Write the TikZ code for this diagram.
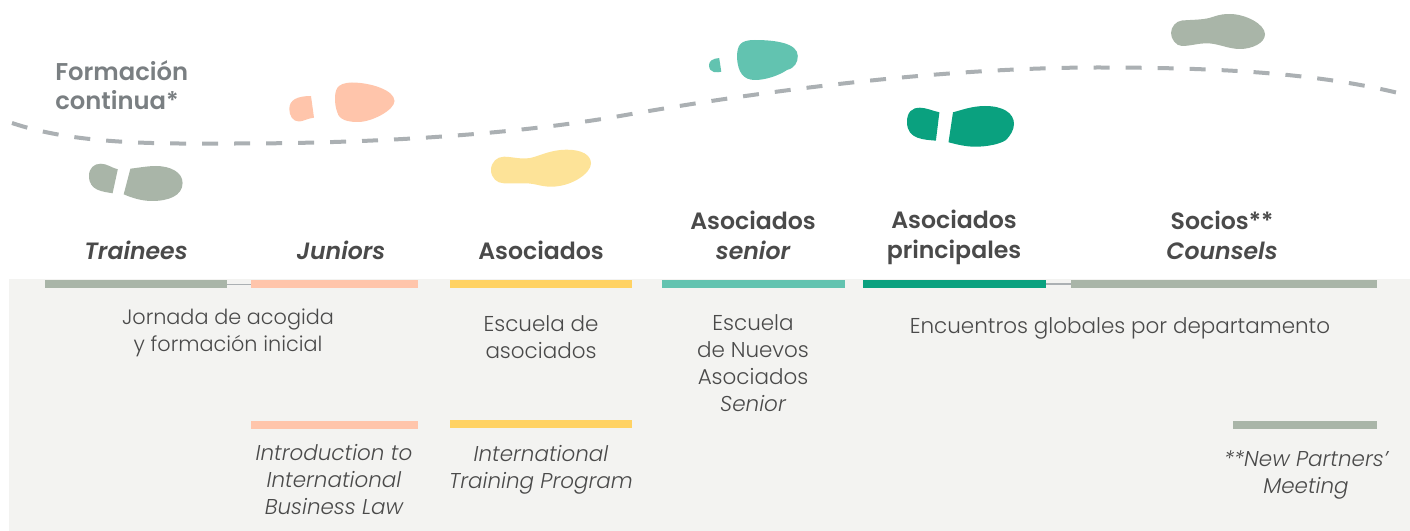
\documentclass[tikz,border=0pt]{standalone}
\usepackage{fontspec}
\setmainfont{Poppins}
\newfontfamily\lightfont{Poppins Light}
\newfontfamily\mediumfont{Poppins SemiBold}
\usepackage{xcolor}
\definecolor{sage}{HTML}{A9B5A8}
\definecolor{peach}{HTML}{FFC5AB}
\definecolor{sand}{HTML}{FFD263}
\definecolor{paleSand}{HTML}{FDE398}
\definecolor{mint}{HTML}{62C3B0}
\definecolor{jade}{HTML}{0AA17F}
\definecolor{panel}{HTML}{F3F3F1}
\definecolor{dashGrey}{HTML}{ABB0B3}
\definecolor{inkGrey}{HTML}{4A4A4A}
\definecolor{tagGrey}{HTML}{7A7F82}
\tikzset{
	barbox/.style={inner sep=0, outer sep=0, minimum height=6pt},
	stage/.style={align=center, text=inkGrey, font=\mediumfont\fontsize{17.7}{22.5}\selectfont},
	course/.style={align=center, text=inkGrey, font=\lightfont\fontsize{16.1}{20.25}\selectfont},
	courseit/.style={course, font=\lightfont\itshape\fontsize{16.1}{20.25}\selectfont},
}
\begin{document}
\begin{tikzpicture}[x=0.75pt,y=-0.75pt]
\useasboundingbox (0,0) rectangle (1410,531);
\fill[panel] (9,279) rectangle (1410,531);
% continuous training path
\draw[dashGrey, line width=3pt, dash pattern=on 12pt off 12pt] (12,123) .. controls (80,146) and (170,143.5) .. (237,143.5) .. controls (370,143.5) and (510,135) .. (620,116) .. controls (790,86) and (960,67.5) .. (1098,67.5) .. controls (1210,67.5) and (1320,72) .. (1410,96);
\node[anchor=north west, align=left, inner sep=0, text=tagGrey, font=\mediumfont\fontsize{18.2}{21.75}\selectfont] (continua) at (55,60) {Formación\\continua*};
% footprints
\fill[sage] (117.8,169.3) -- (112.6,193.3) .. controls (103,191.5) and (89,191) .. (89,176) .. controls (89,168) and (94,163.7) .. (100.8,163.7) .. controls (107,163.7) and (112,168) .. cycle;
\fill[sage] (130.4,168.7) .. controls (140,167.5) and (148,166) .. (156,166) .. controls (170,166) and (182.6,172) .. (182.6,183) .. controls (182.6,196) and (168,201) .. (152,201) .. controls (142,201) and (132,198) .. (123.7,194.3) -- cycle;
\fill[peach] (311,96) -- (314,117.7) .. controls (307,118.5) and (303,121.5) .. (299,121.5) .. controls (293,121.5) and (289.3,116) .. (289.3,109) .. controls (289.3,100) and (297,96) .. cycle;
\fill[peach] (335,100) .. controls (335,90) and (336,83) .. (352,82.5) .. controls (370,82.5) and (394.5,90) .. (394.5,101) .. controls (394.5,110) and (372,122) .. (358,122) .. controls (342,122) and (338,117) .. (336.5,110) .. controls (335.5,106) and (335,103) .. cycle;
\fill[paleSand] (491,170) .. controls (491,162) and (497,156.7) .. (504,156.7) .. controls (512,156.7) and (520,159.5) .. (530,158) .. controls (540,156) and (550,149.7) .. (567,149.7) .. controls (582,149.7) and (591,155) .. (591,163.5) .. controls (591,173) and (572,186.7) .. (551,186.7) .. controls (541,186.7) and (535,183.3) .. (525,183.3) -- (504,183.3) .. controls (497,183.3) and (491,178) .. cycle;
\fill[mint] (719.2,58) -- (721.3,71.7) .. controls (718,72.5) and (709,74) .. (709,65) .. controls (709,61) and (713,58.5) .. cycle;
\fill[mint] (737,58) .. controls (737,45) and (740,40) .. (755,40) .. controls (775,40) and (797.8,43) .. (797.8,56) .. controls (797.8,62) and (795,68) .. (787,70) .. controls (778,76) and (765,80) .. (755,80) .. controls (743,80) and (738,72) .. cycle;
\fill[jade] (939.4,112.3) -- (935.9,140.7) .. controls (925,139.5) and (907,140) .. (907,122) .. controls (907,112) and (912,107.7) .. (920,107.7) .. controls (926,107.7) and (933,111) .. cycle;
\fill[jade] (953,112.3) .. controls (962,110) and (972,106) .. (985,106) .. controls (1003,106) and (1014,113) .. (1014,124) .. controls (1014,130) and (1010,136) .. (1006,140) .. controls (1000,144) and (988,146.7) .. (975,146.7) .. controls (966,146.7) and (957,144.5) .. (948.5,142.3) -- cycle;
\fill[sage] (1171,33) .. controls (1171,27) and (1176,21) .. (1182,20.5) .. controls (1195,19.5) and (1205,20) .. (1214,16.5) .. controls (1220,14.5) and (1224,14) .. (1230,14) .. controls (1245,14) and (1265,24) .. (1265,34.3) .. controls (1265,43) and (1252,49) .. (1240,49) .. controls (1228,49) and (1218,43.3) .. (1207,43.3) .. controls (1198,43.3) and (1190,46) .. (1182,46) .. controls (1176,46) and (1171,39) .. cycle;
% stage bars
\foreach \n/\x/\w/\y/\c in {trainee/135.8/182.4/284/sage, junior/334.5/167/284/peach, asociado/541/182/284/sand, senior/753.5/183/284/mint, principal/954.5/183/284/jade, socio/1224/306/284/sage, juniorB/334.5/167/424.5/peach, asociadoB/541/182/424/sand, socioB/1305/144/424.5/sage} {
	\node[barbox, fill=\c, minimum width=\w*0.75pt] (\n) at (\x,\y) {};
}
\draw[dashGrey, line width=0.75pt] (trainee) -- (junior);
\draw[dashGrey, line width=1.2pt] (principal) -- (socio);
% stage names
\node[stage] (nTrainee) at (136,250) {\itshape Trainees};
\node[stage] (nJunior) at (341,250) {\itshape Juniors};
\node[stage] (nAsociado) at (541,250) {Asociados};
\node[stage] (nSenior) at (753,235) {Asociados\\\itshape senior};
\node[stage] (nPrincipal) at (954,237.5) {Asociados\\principales};
\node[stage] (nSocio) at (1222,235) {Socios**\\\itshape Counsels};
% courses
\node[course, font=\lightfont\fontsize{15.6}{20.25}\selectfont] (cJornada) at (228,333) {Jornada de acogida\\y formación inicial};
\node[course] (cEscuela) at (541,337) {Escuela de\\asociados};
\node[course] (cNuevos) at (753,363.5) {Escuela\\de Nuevos\\Asociados\\\itshape Senior};
\node[course] (cGlobal) at (1120,328.5) {Encuentros globales por departamento};
\node[courseit] (cIntro) at (334,480) {Introduction to\\International\\Business Law};
\node[courseit] (cTraining) at (541,470) {International\\Training Program};
\node[courseit] (cPartners) at (1306,475.5) {**New Partners’\\Meeting};
\end{tikzpicture}
\end{document}
